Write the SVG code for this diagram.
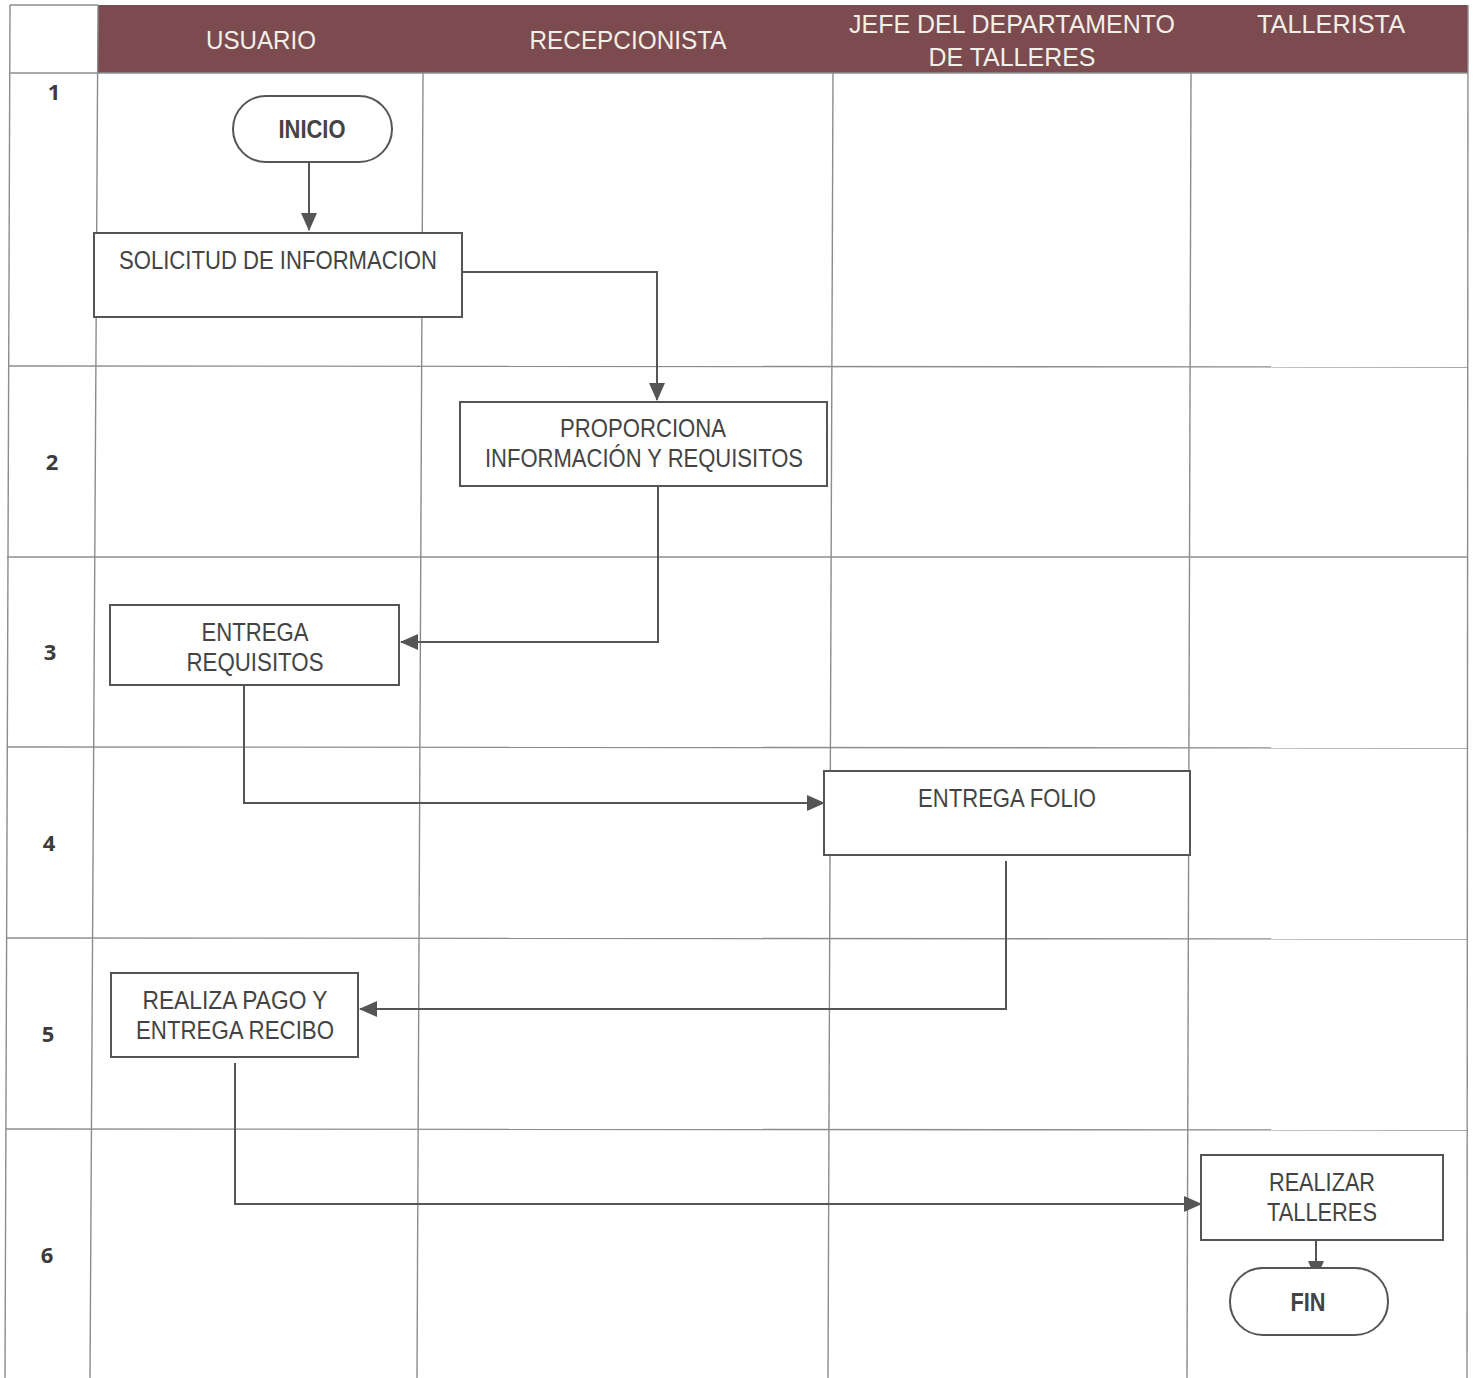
<svg xmlns="http://www.w3.org/2000/svg" width="1474" height="1378" viewBox="0 0 1474 1378">
<style>
.grid{stroke:#8c8c8c;stroke-width:1.4;fill:none}
.box{fill:#fff;stroke:#555;stroke-width:2}
.lbl{font-family:"Liberation Sans",Arial,sans-serif;font-size:25px;fill:#444;text-anchor:middle}
.b{font-weight:bold}
.hdr{font-family:"Liberation Sans",Arial,sans-serif;font-size:25px;fill:#f2efe9;text-anchor:middle}
.num{font-family:"Open Sans","Liberation Sans",sans-serif;font-size:22px;font-weight:bold;fill:#3c3c3c;text-anchor:middle}
.con{fill:none;stroke:#555;stroke-width:2}
</style>
<defs>
<marker id="arr" markerUnits="userSpaceOnUse" markerWidth="18" markerHeight="16" refX="17" refY="8" orient="auto">
<path d="M0,0 L18,8 L0,16 Z" fill="#555"/>
</marker>
</defs>
<rect width="1474" height="1378" fill="#fff"/>
<g id="grid">
<rect x="98" y="5" width="1370" height="68" fill="#7b4b4f"/>
<line class="grid" x1="10" y1="5" x2="98" y2="5"/>
<line class="grid" x1="10" y1="5" x2="5" y2="1378"/>
<line class="grid" x1="98" y1="5" x2="90" y2="1378"/>
<line class="grid" x1="423" y1="73" x2="417" y2="1378"/>
<line class="grid" x1="833" y1="73" x2="828" y2="1378"/>
<line class="grid" x1="1191" y1="73" x2="1187" y2="1378"/>
<line class="grid" x1="1468" y1="5" x2="1467" y2="1378"/>
<line class="grid" x1="10" y1="73" x2="1468" y2="73"/>
<line class="grid" x1="8" y1="366" x2="1468" y2="367"/>
<line class="grid" x1="7" y1="557" x2="1468" y2="557"/>
<line class="grid" x1="7" y1="747" x2="1468" y2="748"/>
<line class="grid" x1="6" y1="938" x2="1468" y2="939"/>
<line class="grid" x1="6" y1="1129" x2="1468" y2="1130"/>
</g>
<g id="header">
<text class="hdr" x="261" y="49" textLength="110" lengthAdjust="spacingAndGlyphs">USUARIO</text>
<text class="hdr" x="628" y="49" textLength="197" lengthAdjust="spacingAndGlyphs">RECEPCIONISTA</text>
<text class="hdr" x="1012" y="33" textLength="326" lengthAdjust="spacingAndGlyphs">JEFE DEL DEPARTAMENTO</text>
<text class="hdr" x="1012" y="66" textLength="167" lengthAdjust="spacingAndGlyphs">DE TALLERES</text>
<text class="hdr" x="1331" y="33" textLength="148" lengthAdjust="spacingAndGlyphs">TALLERISTA</text>
</g>
<g id="rows">
<text class="num" x="54" y="100">1</text>
<text class="num" x="52" y="470">2</text>
<text class="num" x="50" y="660">3</text>
<text class="num" x="49" y="851">4</text>
<text class="num" x="48" y="1042">5</text>
<text class="num" x="47" y="1263">6</text>
</g>
<g id="connectors">
<path class="con" d="M309,162 V230" marker-end="url(#arr)"/>
<path class="con" d="M462,272 H657 V400" marker-end="url(#arr)"/>
<path class="con" d="M658,486 V642 H401" marker-end="url(#arr)"/>
<path class="con" d="M244,686 V803 H824" marker-end="url(#arr)"/>
<path class="con" d="M1006,861 V1009 H360" marker-end="url(#arr)"/>
<path class="con" d="M235,1063 V1204 H1201" marker-end="url(#arr)"/>
<path class="con" d="M1316,1240 V1278" marker-end="url(#arr)"/>
</g>
<g id="inicio">
<rect class="box" x="233" y="96" width="159" height="66" rx="33"/>
<text class="lbl b" x="312" y="138" textLength="67" lengthAdjust="spacingAndGlyphs">INICIO</text>
</g>
<g id="solicitud">
<rect class="box" x="94" y="233" width="368" height="84"/>
<text class="lbl" x="278" y="269" textLength="318" lengthAdjust="spacingAndGlyphs">SOLICITUD DE INFORMACION</text>
</g>
<g id="proporciona">
<rect class="box" x="460" y="402" width="367" height="84"/>
<text class="lbl" x="643" y="437" textLength="166" lengthAdjust="spacingAndGlyphs">PROPORCIONA</text>
<text class="lbl" x="644" y="467" textLength="318" lengthAdjust="spacingAndGlyphs">INFORMACIÓN Y REQUISITOS</text>
</g>
<g id="entrega-requisitos">
<rect class="box" x="110" y="605" width="289" height="80"/>
<text class="lbl" x="255" y="641" textLength="107" lengthAdjust="spacingAndGlyphs">ENTREGA</text>
<text class="lbl" x="255" y="671" textLength="137" lengthAdjust="spacingAndGlyphs">REQUISITOS</text>
</g>
<g id="entrega-folio">
<rect class="box" x="824" y="771" width="366" height="84"/>
<text class="lbl" x="1007" y="807" textLength="178" lengthAdjust="spacingAndGlyphs">ENTREGA FOLIO</text>
</g>
<g id="realiza-pago">
<rect class="box" x="111" y="973" width="247" height="84"/>
<text class="lbl" x="235" y="1009" textLength="185" lengthAdjust="spacingAndGlyphs">REALIZA PAGO Y</text>
<text class="lbl" x="235" y="1039" textLength="198" lengthAdjust="spacingAndGlyphs">ENTREGA RECIBO</text>
</g>
<g id="realizar-talleres">
<rect class="box" x="1201" y="1155" width="242" height="85"/>
<text class="lbl" x="1322" y="1191" textLength="106" lengthAdjust="spacingAndGlyphs">REALIZAR</text>
<text class="lbl" x="1322" y="1221" textLength="110" lengthAdjust="spacingAndGlyphs">TALLERES</text>
</g>
<g id="fin">
<rect class="box" x="1230" y="1268" width="158" height="67" rx="33"/>
<text class="lbl b" x="1308" y="1311" textLength="35" lengthAdjust="spacingAndGlyphs">FIN</text>
</g>
</svg>
